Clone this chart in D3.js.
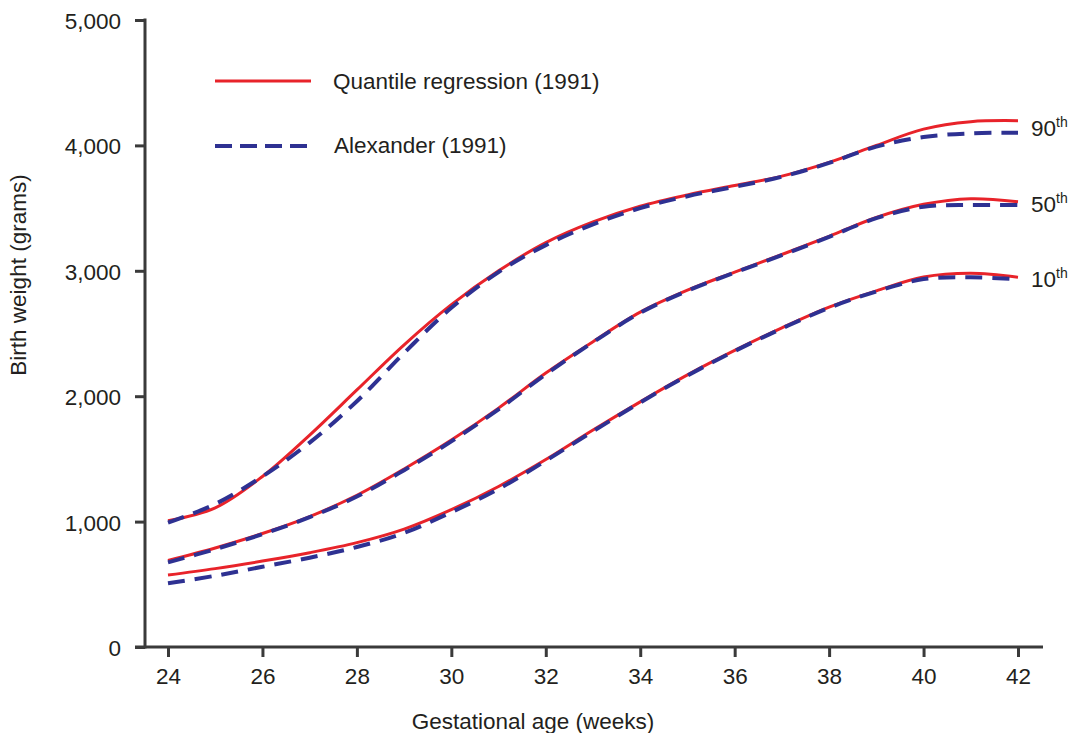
<!DOCTYPE html>
<html lang="en">
<head>
    <meta charset="UTF-8">
    <title>Birth weight by gestational age</title>
    <script src="https://d3js.org/d3.v7.min.js"></script>
    <style>
        body { margin: 0; background: #fff; }
        svg text { font-family: "Liberation Sans", Arial, sans-serif; fill: #231f20; }
    </style>
</head>
<body>
<div id="grafico"></div>
<script>
    // weeks of gestation
    const weeks = [24, 25, 26, 27, 28, 29, 30, 31, 32, 33, 34, 35, 36, 37, 38, 39, 40, 41, 42];

    // quantile regression (red, solid)
    const qr90 = [1007, 1110, 1360, 1690, 2050, 2410, 2730, 3000, 3225, 3390, 3515, 3605, 3680, 3755, 3865, 4000, 4130, 4189, 4197];
    const qr50 = [690, 790, 905, 1040, 1210, 1420, 1650, 1905, 2185, 2435, 2670, 2845, 2990, 3130, 3275, 3425, 3530, 3575, 3550];
    const qr10 = [574, 625, 685, 752, 832, 940, 1095, 1280, 1495, 1730, 1955, 2170, 2365, 2545, 2710, 2840, 2950, 2980, 2948];

    // Alexander (blue, dashed)
    const al90 = [991, 1140, 1360, 1630, 1960, 2345, 2705, 2990, 3205, 3370, 3500, 3595, 3670, 3750, 3860, 3990, 4067, 4096, 4101];
    const al50 = [675, 780, 900, 1035, 1200, 1410, 1640, 1895, 2175, 2430, 2665, 2840, 2985, 3125, 3270, 3420, 3511, 3525, 3524];
    const al10 = [508, 568, 640, 712, 797, 910, 1075, 1260, 1485, 1720, 1950, 2165, 2360, 2540, 2705, 2835, 2934, 2948, 2932];

    const xTicks = [24, 26, 28, 30, 32, 34, 36, 38, 40, 42];
    const yTicks = [0, 1000, 2000, 3000, 4000, 5000];
    const pctLabels = ["90", "50", "10"];

    const width = 1068, height = 733;
    const red = "#e8232a", blue = "#2e3192", axisCol = "#3a3a3a";

    const svg = d3.select("#grafico").append("svg")
        .attr("width", width)
        .attr("height", height);

    const x = d3.scaleLinear().domain([24, 42]).range([168, 1018]);
    const y = d3.scaleLinear().domain([0, 5000]).range([647, 20]);

    // eixos
    const gy = svg.append("g")
        .attr("transform", "translate(145,0)")
        .call(d3.axisLeft(y).tickValues(yTicks).tickFormat(d3.format(",")).tickSize(10).tickPadding(14).tickSizeOuter(0));
    gy.select(".domain").remove();
    gy.selectAll(".tick line").attr("stroke", axisCol).attr("stroke-width", 3);
    gy.selectAll(".tick text").attr("font-size", 22.5).attr("dy", "0.38em").style("font-family", "Liberation Sans, Arial, sans-serif");

    const gx = svg.append("g")
        .attr("transform", "translate(0,647)")
        .call(d3.axisBottom(x).tickValues(xTicks).tickSize(10).tickPadding(11));
    gx.select(".domain").remove();
    gx.selectAll(".tick line").attr("stroke", axisCol).attr("stroke-width", 3);
    gx.selectAll(".tick text").attr("font-size", 22.5).style("font-family", "Liberation Sans, Arial, sans-serif");

    svg.append("line").attr("x1", 145).attr("x2", 145).attr("y1", 18.5).attr("y2", 648.5)
        .attr("stroke", axisCol).attr("stroke-width", 3);
    svg.append("line").attr("x1", 135).attr("x2", 1043).attr("y1", 647).attr("y2", 647)
        .attr("stroke", axisCol).attr("stroke-width", 3);

    svg.append("text")
        .attr("x", 533).attr("y", 729)
        .attr("text-anchor", "middle").attr("font-size", 22.5)
        .text("Gestational age (weeks)");

    svg.append("text")
        .attr("transform", "translate(26,275) rotate(-90)")
        .attr("text-anchor", "middle").attr("font-size", 22.5)
        .text("Birth weight (grams)");

    // curvas
    const line = d3.line()
        .x((d, i) => x(weeks[i]))
        .y(d => y(d))
        .curve(d3.curveCatmullRom.alpha(0.5));

    [qr90, qr50, qr10].forEach(s => {
        svg.append("path").datum(s)
            .attr("d", line)
            .attr("fill", "none")
            .attr("stroke", red)
            .attr("stroke-width", 3);
    });

    [al90, al50, al10].forEach(s => {
        svg.append("path").datum(s)
            .attr("d", line)
            .attr("fill", "none")
            .attr("stroke", blue)
            .attr("stroke-width", 4)
            .attr("stroke-dasharray", "17,10");
    });

    // percentile labels
    [[qr90, al90], [qr50, al50], [qr10, al10]].forEach((pair, i) => {
        const last = weeks.length - 1;
        const yy = y((pair[0][last] + pair[1][last]) / 2) + 9;
        const t = svg.append("text")
            .attr("x", x(42) + 13).attr("y", yy)
            .attr("font-size", 22.5);
        t.append("tspan").text(pctLabels[i]);
        t.append("tspan").attr("font-size", 14).attr("dy", -9).text("th");
    });

    // legenda
    svg.append("line").attr("x1", 215).attr("x2", 311).attr("y1", 81).attr("y2", 81)
        .attr("stroke", red).attr("stroke-width", 3);
    svg.append("text").attr("x", 333).attr("y", 88.5).attr("font-size", 22.5)
        .text("Quantile regression (1991)");

    svg.append("line").attr("x1", 215).attr("x2", 308).attr("y1", 146).attr("y2", 146)
        .attr("stroke", blue).attr("stroke-width", 4).attr("stroke-dasharray", "17,8");
    svg.append("text").attr("x", 334).attr("y", 153).attr("font-size", 22.5)
        .text("Alexander (1991)");
</script>
</body>
</html>
